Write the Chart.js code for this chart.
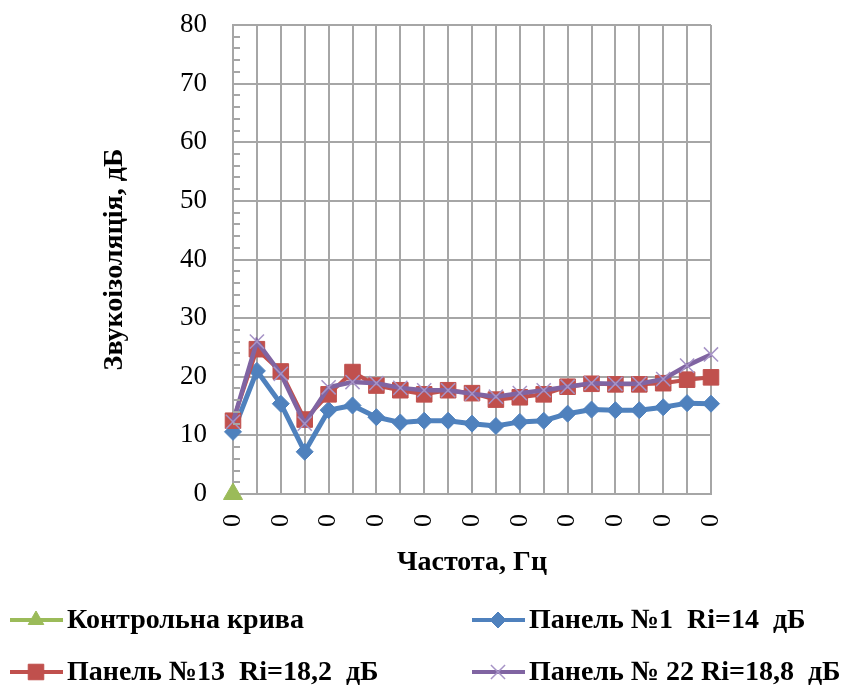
<!DOCTYPE html>
<html>
<head>
<meta charset="utf-8">
<script src="https://cdn.jsdelivr.net/npm/chart.js@4/dist/chart.umd.min.js"></script>
<style>
  html, body { margin: 0; padding: 0; background: #fff; }
  #wrap { width: 857px; height: 693px; }
</style>
</head>
<body>
<div id="wrap"><canvas id="chart" width="857" height="693"></canvas></div>
<script>
// categories (frequency labels all show as "0" in the source)
var labels = ["0","0","0","0","0","0","0","0","0","0","0","0","0","0","0","0","0","0","0","0","0"];
var yTicks = [0, 10, 20, 30, 40, 50, 60, 70, 80];

var kontrol = [0, null, null, null, null, null, null, null, null, null, null, null, null, null, null, null, null, null, null, null, null];
var panel1  = [10.6, 21.0, 15.4, 7.2, 14.3, 15.1, 13.1, 12.2, 12.5, 12.5, 12.0, 11.6, 12.3, 12.5, 13.7, 14.4, 14.3, 14.3, 14.8, 15.5, 15.4];
var panel13 = [12.5, 24.7, 20.9, 12.7, 17.0, 20.8, 18.5, 17.7, 17.0, 17.7, 17.2, 16.1, 16.5, 17.0, 18.3, 18.8, 18.7, 18.7, 18.9, 19.5, 19.9];
var panel22 = [12.3, 26.0, 20.5, 12.0, 18.2, 19.1, 18.9, 18.1, 17.7, 17.7, 17.1, 16.6, 17.2, 17.7, 18.3, 18.9, 18.8, 18.8, 19.6, 21.9, 23.8];

var seriesNames = ["Контрольна крива", "Панель №1  Ri=14  дБ", "Панель №13  Ri=18,2  дБ", "Панель № 22 Ri=18,8  дБ"];

var serif = '"Liberation Serif", "Times New Roman", serif';
var gridColor = '#a6a6a6';

// y minor ticks every 2 dB, drawn inside the plot on the axis
var minorTicks = {
  id: 'minorTicks',
  afterDraw: function (chart) {
    var y = chart.scales.y, ctx = chart.ctx, x0 = chart.chartArea.left;
    ctx.save();
    ctx.strokeStyle = gridColor;
    ctx.lineWidth = 2;
    for (var v = 2; v < 80; v += 2) {
      if (v % 10 === 0) continue;
      var py = Math.round(y.getPixelForValue(v));
      ctx.beginPath();
      ctx.moveTo(x0, py);
      ctx.lineTo(x0 + 7, py);
      ctx.stroke();
    }
    ctx.restore();
  }
};

// two-column legend under the chart
var gridLegend = {
  id: 'gridLegend',
  afterDraw: function (chart) {
    var ctx = chart.ctx;
    var cols = [10, 472], rows = [620, 672];
    ctx.save();
    chart.data.datasets.forEach(function (ds, k) {
      var x = cols[k % 2], y = rows[Math.floor(k / 2)];
      ctx.strokeStyle = ds.borderColor;
      ctx.lineWidth = 4;
      ctx.beginPath();
      ctx.moveTo(x, y);
      ctx.lineTo(x + 53, y);
      ctx.stroke();
      ctx.fillStyle = ds.pointBackgroundColor;
      ctx.strokeStyle = ds.pointBorderColor;
      ctx.lineWidth = ds.pointBorderWidth;
      Chart.helpers.drawPoint(ctx, {
        pointStyle: ds.pointStyle,
        radius: ds.legendRadius,
        borderWidth: ds.pointBorderWidth
      }, x + 26, y);
      ctx.fillStyle = '#000';
      ctx.font = 'bold 28px "Liberation Serif"';
      ctx.textBaseline = 'middle';
      ctx.textAlign = 'left';
      ctx.fillText(seriesNames[k], x + 57, y + 1);
    });
    ctx.restore();
  }
};

var ctx = document.getElementById('chart').getContext('2d');
var chart = new Chart(ctx, {
  type: 'line',
  data: {
    labels: labels,
    datasets: [{
      label: seriesNames[0],
      data: kontrol,
      borderColor: '#9BBB59',
      backgroundColor: '#9BBB59',
      pointBackgroundColor: '#9BBB59',
      pointBorderColor: '#9BBB59',
      pointStyle: 'triangle',
      pointRadius: 11,
      pointBorderWidth: 1,
      legendRadius: 9,
      borderWidth: 4,
      order: 0
    }, {
      label: seriesNames[1],
      data: panel1,
      borderColor: '#4F81BD',
      backgroundColor: '#4F81BD',
      pointBackgroundColor: '#4F81BD',
      pointBorderColor: '#4F81BD',
      pointStyle: 'rectRot',
      pointRadius: 8.5,
      pointBorderWidth: 1,
      legendRadius: 8,
      borderWidth: 5,
      order: 3
    }, {
      label: seriesNames[2],
      data: panel13,
      borderColor: '#C0504D',
      backgroundColor: '#C0504D',
      pointBackgroundColor: '#C0504D',
      pointBorderColor: '#C0504D',
      pointStyle: 'rect',
      pointRadius: 11,
      pointBorderWidth: 1,
      legendRadius: 11,
      borderWidth: 4,
      order: 2
    }, {
      label: seriesNames[3],
      data: panel22,
      borderColor: '#8064A2',
      backgroundColor: '#8064A2',
      pointBackgroundColor: '#8064A2',
      pointBorderColor: '#A693C6',
      pointStyle: 'crossRot',
      pointRadius: 10,
      pointBorderWidth: 1.5,
      legendRadius: 10,
      borderWidth: 4.5,
      order: 1
    }]
  },
  options: {
    responsive: false,
    animation: false,
    clip: false,
    layout: { padding: { left: 90, right: 146, top: 25, bottom: 113 } },
    plugins: {
      legend: { display: false },
      tooltip: { enabled: false }
    },
    scales: {
      x: {
        offset: false,
        grid: { color: gridColor, lineWidth: 2, drawTicks: false },
        border: { color: gridColor, width: 2 },
        ticks: {
          autoSkip: false,
          maxRotation: 90,
          minRotation: 90,
          padding: 20,
          color: '#000',
          font: { family: serif, size: 26 },
          callback: function (v, i) { return i % 2 === 0 ? labels[i] : ''; }
        },
        title: {
          display: true,
          text: 'Частота, Гц',
          color: '#000',
          font: { family: serif, size: 28, weight: 'bold' },
          padding: { top: 0, bottom: 0 }
        },
        afterFit: function (s) { s.height = 86; s.paddingLeft = 0; s.paddingRight = 0; }
      },
      y: {
        min: 0,
        max: 80,
        afterBuildTicks: function (s) { s.ticks = yTicks.map(function (v) { return { value: v }; }); },
        grid: { color: gridColor, lineWidth: 2, drawTicks: false },
        border: { color: gridColor, width: 2 },
        ticks: {
          padding: 26,
          color: '#000',
          font: { family: serif, size: 27 }
        },
        title: {
          display: true,
          text: 'Звукоізоляція, дБ',
          color: '#000',
          font: { family: serif, size: 28, weight: 'bold' },
          padding: { top: 8, bottom: 4 }
        },
        afterFit: function (s) { s.width = 143; s.paddingTop = 0; s.paddingBottom = 0; }
      }
    }
  },
  plugins: [minorTicks, gridLegend]
});
</script>
</body>
</html>
